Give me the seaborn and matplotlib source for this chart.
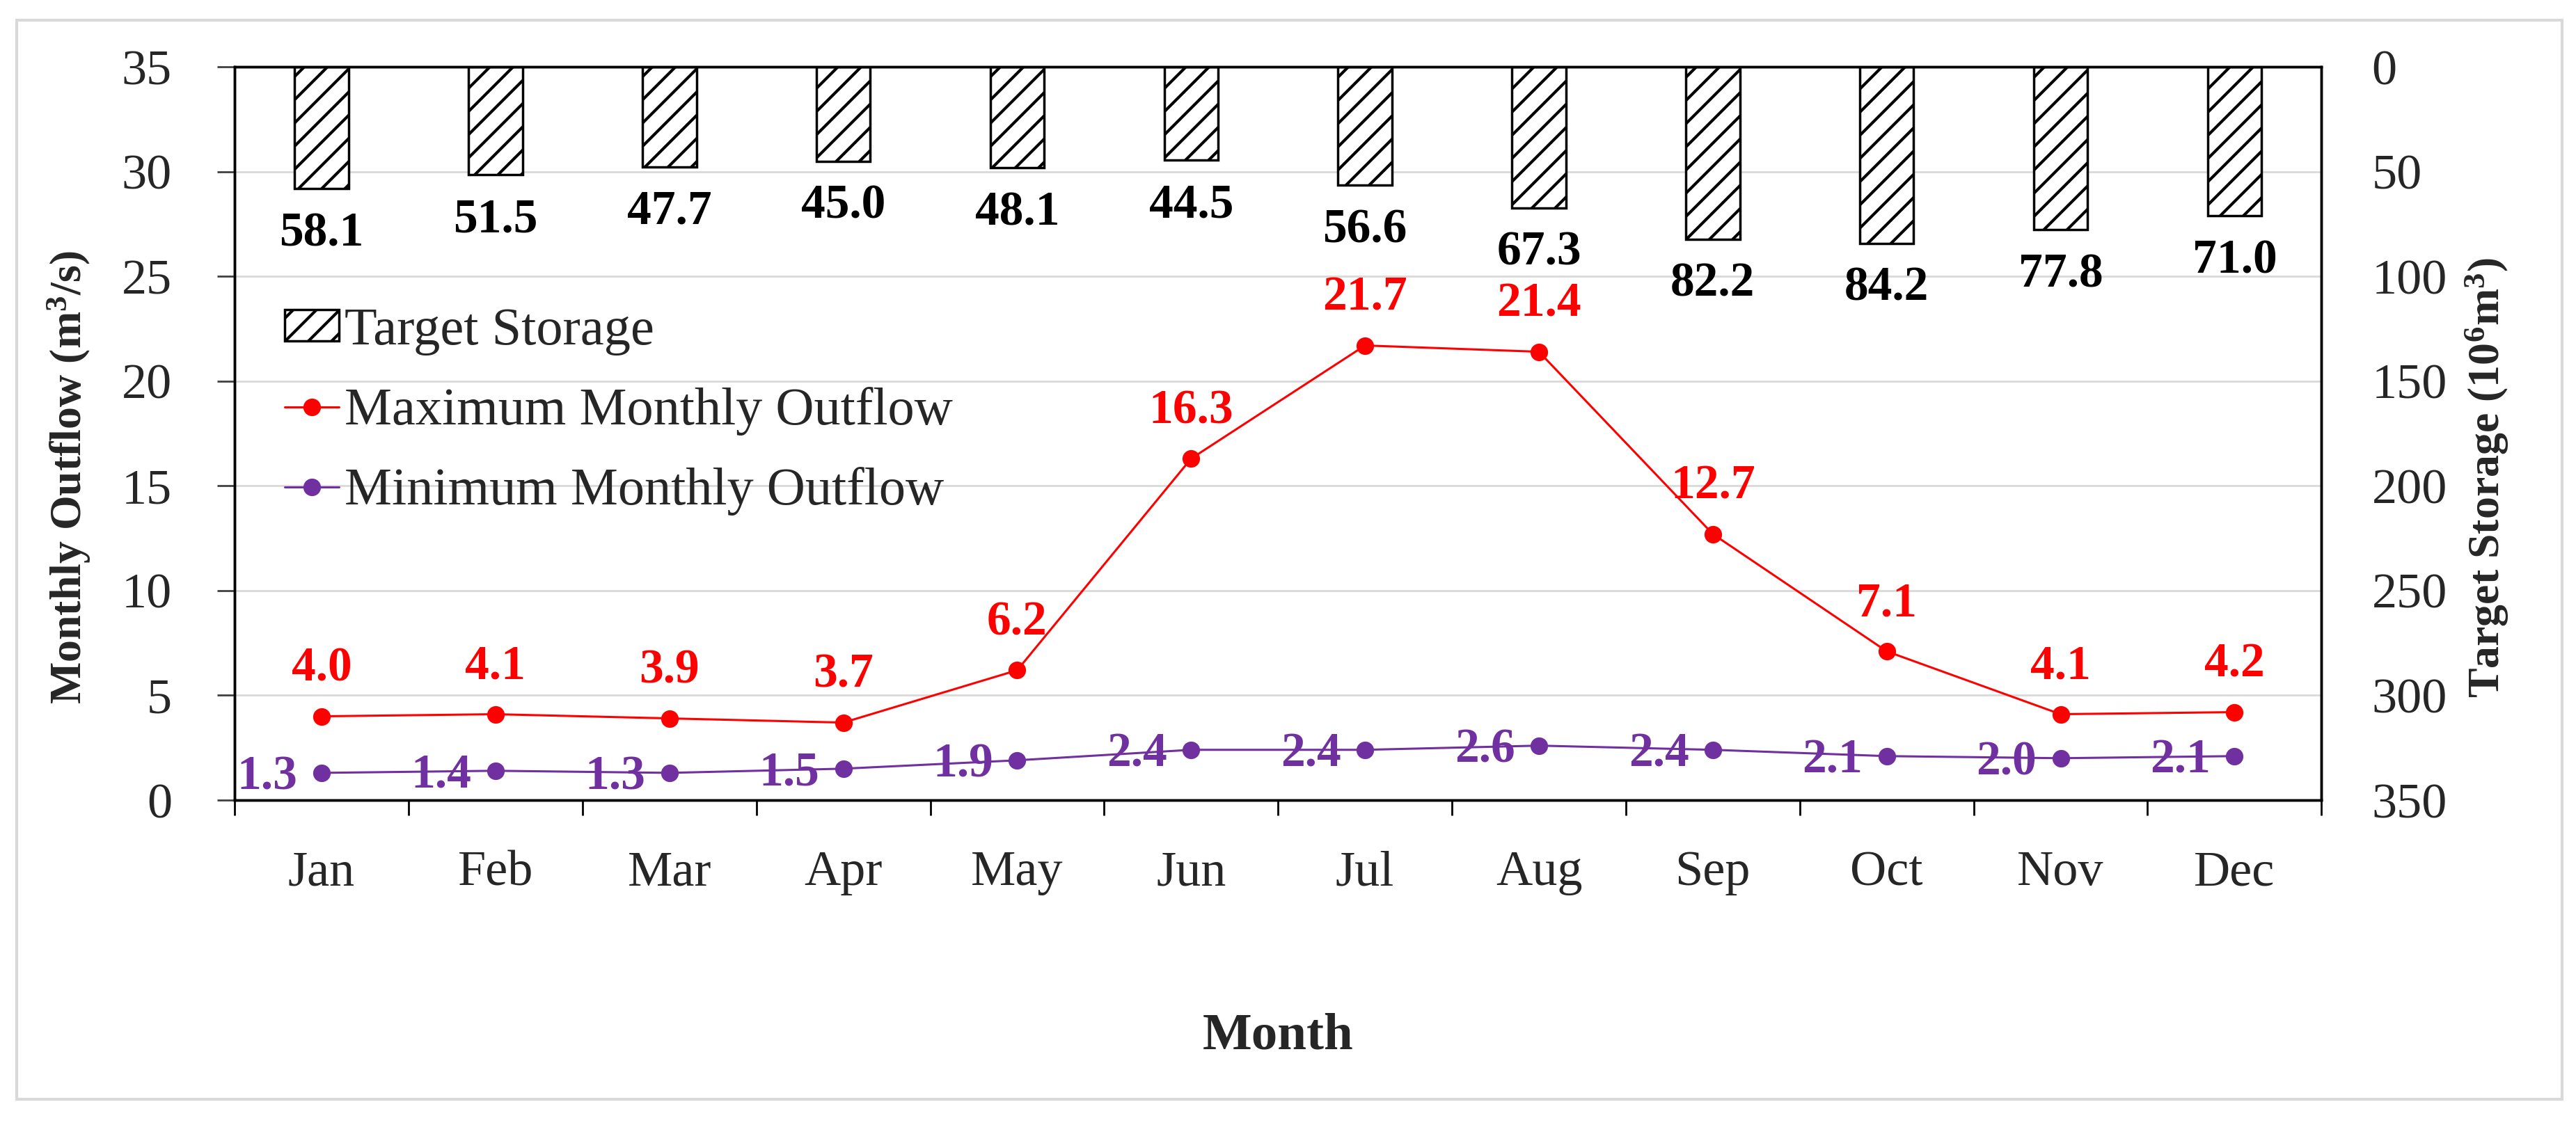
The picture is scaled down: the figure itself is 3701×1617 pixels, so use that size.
import numpy as np
import pandas as pd
import matplotlib
matplotlib.use("Agg")
import matplotlib.pyplot as plt
from matplotlib.patches import Rectangle
import seaborn as sns

# data
months = ["Jan", "Feb", "Mar", "Apr", "May", "Jun",
          "Jul", "Aug", "Sep", "Oct", "Nov", "Dec"]
target_storage = [58.1, 51.5, 47.7, 45.0, 48.1, 44.5, 56.6, 67.3, 82.2, 84.2, 77.8, 71.0]
max_outflow = [4.0, 4.1, 3.9, 3.7, 6.2, 16.3, 21.7, 21.4, 12.7, 7.1, 4.1, 4.2]
min_outflow = [1.3, 1.4, 1.3, 1.5, 1.9, 2.4, 2.4, 2.6, 2.4, 2.1, 2.0, 2.1]

df = pd.DataFrame({"Month": months, "Storage": target_storage,
                   "Max": max_outflow, "Min": min_outflow})

sns.set_theme(style="white")
plt.rcParams["font.family"] = ["Liberation Serif", "DejaVu Serif"]
plt.rcParams["mathtext.default"] = "regular"
plt.rcParams["hatch.linewidth"] = 3

RED = "#FF0000"
PURPLE = "#7030A0"
GRID = "#D9D9D9"

fig = plt.figure(figsize=(37.01, 16.17), dpi=100)
ax = fig.add_axes([0.0911, 0.2888, 0.8101, 0.6518])
ax2 = ax.twinx()

# hanging storage bars on the inverted right axis
sns.barplot(data=df, x="Month", y="Storage", order=months, ax=ax2,
            width=0.31, color="white", edgecolor="black", linewidth=2.5,
            hatch="/", errorbar=None, label="Target Storage")
if ax2.get_legend() is not None:
    ax2.get_legend().remove()
ax2.set_ylim(350, 0)
ax2.set_yticks(np.arange(0, 351, 50))

# outflow lines
sns.pointplot(data=df, x="Month", y="Max", order=months, ax=ax, color=RED,
              markers="o", markersize=16.5, linewidth=2.2, errorbar=None,
              label="Maximum Monthly Outflow")
sns.pointplot(data=df, x="Month", y="Min", order=months, ax=ax, color=PURPLE,
              markers="o", markersize=16.5, linewidth=2.2, errorbar=None,
              label="Minimum Monthly Outflow")
if ax.get_legend() is not None:
    ax.get_legend().remove()

ax.set_zorder(ax2.get_zorder() + 1)
ax.patch.set_visible(False)

ax.set_ylim(0, 35)
ax.set_yticks(np.arange(0, 36, 5))
ax.set_xlim(-0.5, len(months) - 0.5)
ax.set_xticks(range(len(months)))
ax.set_xticklabels(months)
ax.set_xticks(np.arange(-0.5, len(months), 1), minor=True)

# grid behind the bars
ax2.set_axisbelow(True)
ax2.yaxis.grid(True, color=GRID, linewidth=2)
ax2.xaxis.grid(True, which="minor", color=GRID, linewidth=2)
ax.grid(False)

# data labels
for i, v in enumerate(target_storage):
    ax2.annotate(f"{v:.1f}", (i, v), xytext=(0, -47), textcoords="offset points",
                 ha="center", va="center", fontsize=50, fontweight="bold", color="black")
for i, v in enumerate(max_outflow):
    ax.annotate(f"{v:.1f}", (i, v), xytext=(0, 49), textcoords="offset points",
                ha="center", va="center", fontsize=50, fontweight="bold", color=RED)
for i, v in enumerate(min_outflow):
    ax.annotate(f"{v:.1f}", (i, v), xytext=(-56, -5), textcoords="offset points",
                ha="center", va="center", fontsize=50, fontweight="bold", color=PURPLE)

# axes styling
for a in (ax, ax2):
    for s in a.spines.values():
        s.set_color("black")
        s.set_linewidth(2.5)

ax.tick_params(axis="y", which="major", direction="out", length=18, width=2,
               labelsize=52, pad=47, color="#404040", left=True)
ax.tick_params(axis="x", which="major", length=0, labelsize=52, pad=52)
ax.tick_params(axis="x", which="minor", direction="out", length=16, width=2,
               color="black", bottom=True)
ax2.tick_params(axis="y", length=0, labelsize=52, pad=52, right=True)

ax.set_xlabel("Month", fontsize=54, fontweight="bold")
ax.set_ylabel("Monthly Outflow (m$^{3}$/s)", fontsize=46, fontweight="bold")
ax2.set_ylabel("Target Storage (10$^{6}$m$^{3}$)", fontsize=46, fontweight="bold")
ax.xaxis.set_label_coords(0.5, -0.29)
ax.yaxis.set_label_coords(-0.068, 0.44)
ax2.yaxis.set_label_coords(1.068, 0.44)

# legend
h2, l2 = ax2.get_legend_handles_labels()
h1, l1 = ax.get_legend_handles_labels()
ax.legend(h2 + h1, l2 + l1, loc="upper left", bbox_to_anchor=(0.024, 0.672),
          frameon=False, fontsize=55, handlelength=1.02, handleheight=0.54,
          handletextpad=0.1, labelspacing=0.59, borderaxespad=0, borderpad=0)

# light frame around the figure
fig.patches.append(Rectangle((0.0065, 0.023), 0.988, 0.959, transform=fig.transFigure,
                             fill=False, edgecolor=GRID, linewidth=3))

fig.savefig("out.png", dpi=100)
